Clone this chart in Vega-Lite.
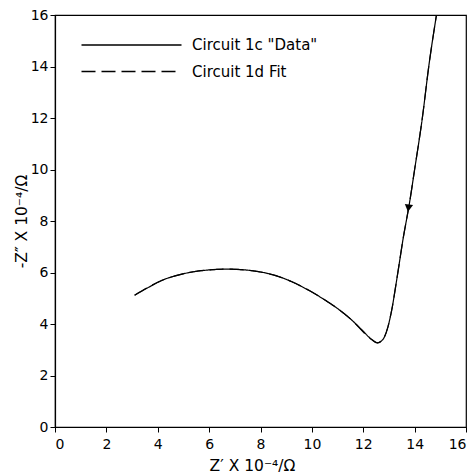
{
  "$schema": "https://vega.github.io/schema/vega-lite/v6.json",
  "width": 411,
  "height": 412,
  "autosize": "none",
  "padding": {"left": 55, "top": 15, "right": 8, "bottom": 46},
  "config": {
    "font": "DejaVu Sans",
    "view": {"stroke": "#000", "strokeWidth": 1.2},
    "axis": {
      "grid": false, "domainColor": "#000", "tickColor": "#000", "labelColor": "#000", "titleColor": "#000",
      "labelFontSize": 14, "titleFontSize": 15.5, "titleFontWeight": "normal", "tickSize": 5, "domainWidth": 1.2
    }
  },
  "datasets": {
    "curves": [
      {"series": "Circuit 1c \"Data\"", "x": 3.1, "y": 5.12},
      {"series": "Circuit 1c \"Data\"", "x": 3.6, "y": 5.4},
      {"series": "Circuit 1c \"Data\"", "x": 4.2, "y": 5.71},
      {"series": "Circuit 1c \"Data\"", "x": 4.8, "y": 5.9},
      {"series": "Circuit 1c \"Data\"", "x": 5.4, "y": 6.03},
      {"series": "Circuit 1c \"Data\"", "x": 6.0, "y": 6.1},
      {"series": "Circuit 1c \"Data\"", "x": 6.7, "y": 6.13},
      {"series": "Circuit 1c \"Data\"", "x": 7.4, "y": 6.1},
      {"series": "Circuit 1c \"Data\"", "x": 8.0, "y": 6.02},
      {"series": "Circuit 1c \"Data\"", "x": 8.6, "y": 5.88},
      {"series": "Circuit 1c \"Data\"", "x": 9.2, "y": 5.65},
      {"series": "Circuit 1c \"Data\"", "x": 9.8, "y": 5.35},
      {"series": "Circuit 1c \"Data\"", "x": 10.4, "y": 5.0},
      {"series": "Circuit 1c \"Data\"", "x": 11.0, "y": 4.6},
      {"series": "Circuit 1c \"Data\"", "x": 11.5, "y": 4.2},
      {"series": "Circuit 1c \"Data\"", "x": 12.0, "y": 3.72},
      {"series": "Circuit 1c \"Data\"", "x": 12.3, "y": 3.42},
      {"series": "Circuit 1c \"Data\"", "x": 12.55, "y": 3.27},
      {"series": "Circuit 1c \"Data\"", "x": 12.75, "y": 3.38},
      {"series": "Circuit 1c \"Data\"", "x": 12.95, "y": 3.85},
      {"series": "Circuit 1c \"Data\"", "x": 13.1, "y": 4.5},
      {"series": "Circuit 1c \"Data\"", "x": 13.3, "y": 5.7},
      {"series": "Circuit 1c \"Data\"", "x": 13.55, "y": 7.3},
      {"series": "Circuit 1c \"Data\"", "x": 13.8, "y": 8.7},
      {"series": "Circuit 1c \"Data\"", "x": 14.0, "y": 10.0},
      {"series": "Circuit 1c \"Data\"", "x": 14.3, "y": 12.0},
      {"series": "Circuit 1c \"Data\"", "x": 14.55, "y": 14.0},
      {"series": "Circuit 1c \"Data\"", "x": 14.85, "y": 16.0},
      {"series": "Circuit 1d Fit", "x": 3.1, "y": 5.12},
      {"series": "Circuit 1d Fit", "x": 4.2, "y": 5.71},
      {"series": "Circuit 1d Fit", "x": 5.4, "y": 6.03},
      {"series": "Circuit 1d Fit", "x": 6.7, "y": 6.13},
      {"series": "Circuit 1d Fit", "x": 8.0, "y": 6.02},
      {"series": "Circuit 1d Fit", "x": 9.2, "y": 5.65},
      {"series": "Circuit 1d Fit", "x": 10.4, "y": 5.0},
      {"series": "Circuit 1d Fit", "x": 11.5, "y": 4.2},
      {"series": "Circuit 1d Fit", "x": 12.3, "y": 3.42},
      {"series": "Circuit 1d Fit", "x": 12.55, "y": 3.27},
      {"series": "Circuit 1d Fit", "x": 12.75, "y": 3.38},
      {"series": "Circuit 1d Fit", "x": 12.95, "y": 3.85},
      {"series": "Circuit 1d Fit", "x": 13.1, "y": 4.5},
      {"series": "Circuit 1d Fit", "x": 13.3, "y": 5.7},
      {"series": "Circuit 1d Fit", "x": 13.55, "y": 7.3},
      {"series": "Circuit 1d Fit", "x": 13.8, "y": 8.7},
      {"series": "Circuit 1d Fit", "x": 14.0, "y": 10.0},
      {"series": "Circuit 1d Fit", "x": 14.3, "y": 12.0},
      {"series": "Circuit 1d Fit", "x": 14.55, "y": 14.0},
      {"series": "Circuit 1d Fit", "x": 14.85, "y": 16.0}
    ],
    "arrow": [{"x": 13.76, "y": 8.5}]
  },
  "layer": [
    {
      "data": {"name": "curves"},
      "mark": {"type": "line", "interpolate": "monotone", "strokeWidth": 1.2, "clip": true},
      "encoding": {
        "x": {"field": "x", "type": "quantitative", "scale": {"domain": [0, 16], "nice": false},
          "axis": {"values": [0, 2, 4, 6, 8, 10, 12, 14, 16], "title": "Z′ X 10⁻⁴/Ω", "labelPadding": 5, "titlePadding": 7, "titleX": 197}},
        "y": {"field": "y", "type": "quantitative", "scale": {"domain": [0, 16], "nice": false},
          "axis": {"values": [0, 2, 4, 6, 8, 10, 12, 14, 16], "title": "-Z″ X 10⁻⁴/Ω", "labelPadding": 2, "titlePadding": 1}},
        "color": {"field": "series", "type": "nominal",
          "scale": {"domain": ["Circuit 1c \"Data\"", "Circuit 1d Fit"], "range": ["#000", "#000"]},
          "legend": {
            "title": null, "orient": "none", "legendX": 63, "legendY": 16.5,
            "symbolType": "M-4,0H4", "symbolSize": 625, "symbolStrokeWidth": 1.3,
            "labelFontSize": 15, "labelOffset": 47, "rowPadding": 4.5, "labelColor": "#000"
          }},
        "strokeDash": {"field": "series", "type": "nominal",
          "scale": {"domain": ["Circuit 1c \"Data\"", "Circuit 1d Fit"], "range": [[1, 0], [14, 6]]},
          "legend": null}
      }
    },
    {
      "data": {"name": "arrow"},
      "mark": {"type": "point", "shape": "triangle-down", "filled": true, "color": "#000", "size": 70, "opacity": 1, "angle": 8},
      "encoding": {
        "x": {"field": "x", "type": "quantitative"},
        "y": {"field": "y", "type": "quantitative"}
      }
    }
  ]
}
